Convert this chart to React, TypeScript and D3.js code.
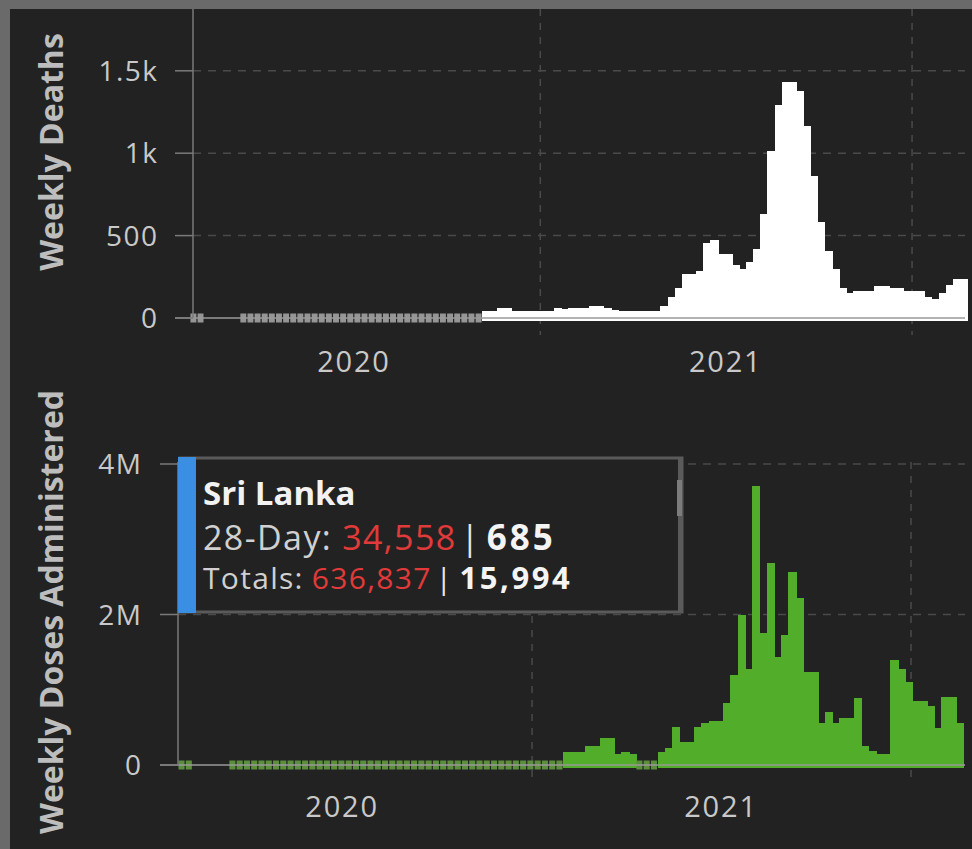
import React from 'react'
import * as d3 from 'd3'

const WIDTH = 972
const HEIGHT = 849
const FONT = "'Open Sans', 'Noto Sans', sans-serif"

// shared time window of both panels
const xDomain = ['2020-01-26', '2022-02-22']
const yearLabels = ['2020', '2021']

// weekly deaths, weeks starting at deathWeekStart (null = no report)
const deathWeekStart = '2020-01-23'
const weeklyDeaths = [
  0, 0, null, null, null, null, null,
  0, 0, 0, 0, 0, 0, 0, 0, 0, 0, 0, 0, 0, 0, 0, 0, 0,
  0, 0, 0, 0, 0, 0, 0, 0, 0, 0, 0, 0, 0, 0, 0, 0, 0,
  44, 44, 59, 59, 44, 44, 44, 44, 44, 44,
  59, 55, 59, 59, 59, 75, 70, 59, 50, 44,
  44, 44, 44, 44, 44, 75, 127, 181, 266, 266,
  286, 456, 476, 391, 391, 321, 300, 341, 421, 633,
  1016, 1295, 1430, 1430, 1380, 1168, 859, 583, 407, 300,
  180, 149, 165, 165, 165, 196, 196, 180, 180, 165,
  165, 165, 129, 113, 149, 201, 234, 234,
]
const deathTicks = [0, 500, 1000, 1500]
const deathTickLabels = ['0', '500', '1k', '1.5k']

// weekly vaccine doses in millions
const doseWeekStart = '2020-01-26'
const weeklyDoses = [
  0, 0, null, null, null, null, null,
  0, 0, 0, 0, 0, 0, 0, 0, 0, 0, 0, 0, 0, 0, 0, 0,
  0, 0, 0, 0, 0, 0, 0, 0, 0, 0, 0, 0, 0, 0, 0, 0,
  0, 0, 0, 0, 0, 0, 0, 0, 0, 0, 0, 0, 0, 0,
  0.17, 0.17, 0.17, 0.25, 0.25, 0.36, 0.36, 0.14, 0.17, 0.14,
  0, 0, 0,
  0.17, 0.22, 0.51, 0.31, 0.31, 0.51, 0.56,
  0.59, 0.59, 0.82, 1.19, 2.0, 1.28, 3.71, 1.75, 2.68, 1.43,
  1.73, 2.56, 2.22, 1.23, 1.23, 0.56, 0.70, 0.56, 0.62, 0.62,
  0.89, 0.25, 0.18, 0.15, 0.15, 1.39, 1.28, 1.1, 0.85, 0.85,
  0.78, 0.49, 0.90, 0.90, 0.56,
]
const doseTicks = [0, 2, 4]
const doseTickLabels = ['0', '2M', '4M']

// hover card
const tooltipCountry = 'Sri Lanka'
const tooltipDayLabel = '28-Day:'
const tooltipDay = ['34,558', '685']
const tooltipTotalLabel = 'Totals:'
const tooltipTotal = ['636,837', '15,994']

const parse = d3.timeParse('%Y-%m-%d')

function WeeklyPanel({ values, start, xRange, yMax, yRange, ticks, tickLabels, color, stubColor, title, lay }) {
  const x = d3.scaleTime().domain(xDomain.map(parse)).range(xRange)
  const y = d3.scaleLinear().domain([0, yMax]).range(yRange)
  const y0 = y(0)
  const first = parse(start)

  const bars = values.map((v, i) => {
    if (v === null) return null
    const d0 = d3.timeWeek.offset(first, i)
    const d1 = d3.timeWeek.offset(first, i + 1)
    const x0 = x(d0)
    const w = x(d1) - x0
    if (v === 0) {
      return <rect key={i} x={x0 + 0.5} y={y0 - 4.5} width={w - 1.2} height={9} fill={stubColor} />
    }
    return <rect key={i} x={x0} y={y(v)} width={w + 1} height={y0 + 3 - y(v)} fill={color}
      shapeRendering="crispEdges" />
  })

  const yearLines = x.ticks(d3.timeYear.every(1)).filter(d => x(d) > xRange[0] + 5)

  return (
    <g fontFamily={FONT}>
      {yearLines.map((d, i) => (
        <line key={'v' + i} x1={x(d)} x2={x(d)} y1={lay.top} y2={lay.gridBottom}
          stroke="#4a4a4a" strokeWidth={1.5} strokeDasharray="7 7" />
      ))}
      {ticks.filter(t => t > 0).map((t, i) => (
        <line key={'h' + i} x1={xRange[0]} x2={xRange[1]} y1={y(t)} y2={y(t)}
          stroke="#4a4a4a" strokeWidth={1.5} strokeDasharray="8 7" />
      ))}
      {bars}
      <line x1={lay.tickX} x2={xRange[1]} y1={y0} y2={y0} stroke="#9a9a9a" strokeWidth={1.5} />
      <line x1={xRange[0]} x2={xRange[0]} y1={lay.top} y2={y0} stroke="#7a7a7a" strokeWidth={1.5} />
      {ticks.map((t, i) => (
        <g key={'t' + i}>
          <line x1={lay.tickX} x2={xRange[0]} y1={y(t)} y2={y(t)} stroke="#7a7a7a" strokeWidth={1.5} />
          <text x={lay.labelX + 1.5} y={y(t)} dy="0.36em" textAnchor="end" fontSize={28}
            letterSpacing={1.5} fill="#c9c9c9">
            {tickLabels[i]}
          </text>
        </g>
      ))}
      {yearLabels.map(yr => (
        <text key={yr} x={x(new Date(+yr, 6, 2))} y={lay.yearY} textAnchor="middle" fontSize={29}
          letterSpacing={1.8} fill="#c9c9c9">
          {yr}
        </text>
      ))}
      <text transform={`translate(${lay.titleX},${lay.titleY}) rotate(-90)`} textAnchor="middle"
        fontSize={32} fontWeight={700} fill="#bdbdbd">
        {title}
      </text>
    </g>
  )
}

function Tooltip() {
  const bx = 180, by = 458, bw = 502, bh = 154
  return (
    <g fontFamily={FONT}>
      <rect x={bx} y={by} width={bw} height={bh} fill="#222222" stroke="#5a5a5a" strokeWidth={3} />
      <rect x={bx + bw - 4} y={by} width={4} height={bh} fill="#5a5a5a" />
      <rect x={bx + bw - 5} y={by + 22} width={5} height={36} fill="#7c7c7c" />
      <rect x={bx - 2} y={by - 1} width={18} height={bh + 2} fill="#3b8fe3" />
      <text x={bx + 23} y={by + 47} fontSize={33} fontWeight={700} fill="#f2f2f2">{tooltipCountry}</text>
      <text x={bx + 23} y={by + 92} fontSize={34} letterSpacing={1.4} fill="#d0d0d0">
        <tspan>{tooltipDayLabel}</tspan>
        <tspan dx={10} fill="#e03a3a">{tooltipDay[0]}</tspan>
        <tspan dx={4} fill="#e6e6e6">|</tspan>
        <tspan dx={6} fill="#f4f4f4" fontWeight={700} fontSize={35} letterSpacing={3}>{tooltipDay[1]}</tspan>
      </text>
      <text x={bx + 23} y={by + 131} fontSize={30} letterSpacing={1.3} fill="#d0d0d0">
        <tspan>{tooltipTotalLabel}</tspan>
        <tspan dx={8} fill="#e03a3a">{tooltipTotal[0]}</tspan>
        <tspan dx={4} fill="#e6e6e6">|</tspan>
        <tspan dx={6} fill="#f4f4f4" fontWeight={700} fontSize={31} letterSpacing={2.6}>{tooltipTotal[1]}</tspan>
      </text>
    </g>
  )
}

export default function App() {
  return (
    <div style={{ position: 'absolute', left: 0, top: 0 }}>
      <svg width={WIDTH} height={HEIGHT} style={{ display: 'block' }}>
        <rect width={WIDTH} height={HEIGHT} fill="#6a6a6a" />
        <rect x={10} y={9} width={WIDTH - 10} height={HEIGHT - 9} fill="#222222" />
        <WeeklyPanel
          values={weeklyDeaths} start={deathWeekStart}
          xRange={[193, 965]} yMax={1875} yRange={[318, 9]}
          ticks={deathTicks} tickLabels={deathTickLabels}
          color="#ffffff" stubColor="#959595" title="Weekly Deaths"
          lay={{ top: 9, gridBottom: 335, tickX: 175, labelX: 157, yearY: 372, titleX: 63, titleY: 152 }}
        />
        <WeeklyPanel
          values={weeklyDoses} start={doseWeekStart}
          xRange={[178, 965]} yMax={4} yRange={[765, 464]}
          ticks={doseTicks} tickLabels={doseTickLabels}
          color="#52ad2b" stubColor="#5b8f3c" title="Weekly Doses Administered"
          lay={{ top: 462, gridBottom: 782, tickX: 160, labelX: 141, yearY: 817, titleX: 63, titleY: 612 }}
        />
        <Tooltip />
      </svg>
    </div>
  )
}
